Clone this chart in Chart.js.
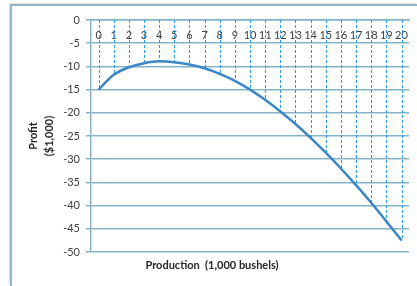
<!DOCTYPE html>
<html>
<head>
<meta charset="utf-8">
<script src="https://cdn.jsdelivr.net/npm/chart.js@4"></script>
<style>
  html, body { margin: 0; padding: 0; background: #ffffff; }
  #wrap { position: relative; width: 417px; height: 286px; }
  #frame { position: absolute; left: 10px; top: 4px; right: 0; bottom: 0;
           border-left: 2px solid #8fb6c9; border-top: 2px solid #8fb6c9;
           box-shadow: -1px -1px 0 #f6d9cf; }
  canvas { position: absolute; left: 0; top: 0; }
</style>
</head>
<body>
<div id="wrap">
  <div id="frame"></div>
  <canvas id="c" width="417" height="286"></canvas>
</div>
<script>
const categories = ["0","1","2","3","4","5","6","7","8","9","10","11","12","13","14","15","16","17","18","19","20"];
const profit = [-15, -11.8, -10.2, -9.3, -8.9, -9.1, -9.6, -10.4, -11.6, -13.1, -15.0, -17.2, -19.7, -22.4, -25.4, -28.6, -32.0, -35.6, -39.4, -43.4, -47.5];
const yMin = -50;
const yMax = 0;
const yStep = 5;
const xTitle = "Production  (1,000 bushels)";
const yTitle = ["Profit", "($1,000)"];

const FONT = "Lato, 'Open Sans', sans-serif";

const dropLines = {
  id: 'dropLines',
  beforeDatasetsDraw(chart) {
    const meta = chart.getDatasetMeta(0);
    const ys = chart.scales.y;
    const y0 = ys.getPixelForValue(0);
    const ctx = chart.ctx;
    ctx.save();
    ctx.strokeStyle = '#2a9be2';
    ctx.lineWidth = 1;
    ctx.setLineDash([3, 2]);
    meta.data.forEach(p => {
      const x = Math.round(p.x) + 0.5;
      ctx.beginPath();
      ctx.moveTo(x, y0);
      ctx.lineTo(x, p.y);
      ctx.stroke();
    });
    ctx.restore();
  }
};

new Chart(document.getElementById('c'), {
  type: 'line',
  data: {
    labels: categories,
    datasets: [{
      data: profit,
      borderColor: '#3a86c6',
      borderWidth: 2.5,
      pointRadius: 0,
      cubicInterpolationMode: 'monotone',
      fill: false
    }]
  },
  options: {
    responsive: false,
    animation: false,
    devicePixelRatio: 1,
    layout: { padding: { left: 12, right: 5, top: 20, bottom: 8 } },
    plugins: {
      legend: { display: false },
      tooltip: { enabled: false },
      title: {
        display: true,
        position: 'bottom',
        text: xTitle,
        color: '#262626',
        font: { family: FONT, size: 11, weight: 'bold', lineHeight: 1.2 },
        padding: { top: 6.4, bottom: 6.4 }
      }
    },
    scales: {
      x: {
        position: { y: 0 },
        offset: true,
        grid: { display: false, drawTicks: false },
        border: { display: true, color: '#86b3c8', width: 1.5 },
        ticks: {
          autoSkip: false, maxRotation: 0, minRotation: 0,
          padding: 9,
          color: '#404040',
          font: { family: FONT, size: 11 }
        }
      },
      y: {
        min: yMin, max: yMax,
        afterFit(scale) { scale.width = 79; },
        grid: { color: '#86b3c8', lineWidth: 1.5, tickLength: 5, drawTicks: true },
        border: { display: true, color: '#86b3c8', width: 1.5 },
        ticks: {
          stepSize: yStep,
          padding: 6,
          color: '#404040',
          font: { family: FONT, size: 11 }
        },
        title: {
          display: true,
          text: yTitle,
          color: '#262626',
          font: { family: FONT, size: 11, weight: 'bold', lineHeight: 1.5 },
          padding: { top: 13, bottom: 0 }
        }
      }
    }
  },
  plugins: [dropLines]
});
</script>
</body>
</html>
